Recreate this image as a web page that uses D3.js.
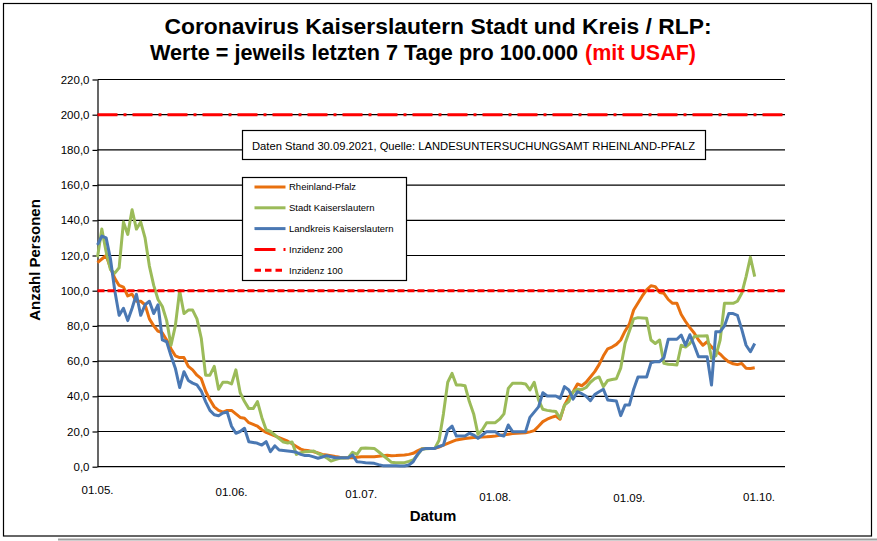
<!DOCTYPE html>
<html>
<head>
<meta charset="utf-8">
<script src="https://cdn.jsdelivr.net/npm/d3@7"></script>
<style>
  body { margin: 0; background: #fff; }
  text { font-family: "Liberation Sans", Arial, sans-serif; }
</style>
</head>
<body>
<div class="chart"></div>
<script>
// one value per day, starting 01.05.2021
const startDate = '2021-05-01'

const rlp = [
  116, 118, 120, 113, 107, 103, 102, 97, 98, 94,
  94, 92, 84, 80, 77, 76, 72, 67, 63, 62,
  62, 57, 55, 52, 50, 43, 38, 34, 32, 31,
  32, 32, 30, 28, 27.5, 25, 24, 23, 21, 19.5,
  18.5, 17.5, 16.5, 15.5, 14.5, 13, 11.5, 10, 9.3, 9,
  8.5, 7.8, 7, 6.7, 6.3, 5.8, 5.4, 5.1, 5.1, 5.1,
  5.4, 5.7, 5.7, 5.7, 5.7, 6, 6.2, 6.5, 6.2, 6.3,
  6.5, 6.6, 7, 7.6, 9, 10.2, 10.4, 10.4, 10.5, 11.2,
  12.2, 13.2, 14.2, 15.2, 15.6, 16, 16.3, 16.6, 16.7, 16.9,
  17, 17.2, 17.4, 17.8, 18.2, 18.5, 18.8, 19, 19.1, 19.3,
  19.8, 20.5, 23, 25.6, 27, 28, 28.8, 27, 35, 39.5,
  42.6, 47, 46, 48, 51, 54, 58, 63, 67, 68,
  69.5, 72, 77, 81, 89, 93, 97, 100.5, 102.8, 102.3,
  99, 98.5, 95, 92.8, 92.8, 86.5, 82.5, 79, 76, 72,
  69, 71, 68, 66, 64, 61.5, 59.5, 58.5, 58, 58.7,
  56, 55.8, 56.2
]

const stadt = [
  119, 135, 122, 112, 110, 113, 139, 132, 146, 135,
  139, 130, 114, 103, 95, 91, 83, 69, 80, 100,
  87, 89, 89, 84, 73, 52, 52, 57, 44, 48,
  48, 47, 55, 42, 37, 33, 33, 37, 28, 21,
  20, 18, 16, 14, 13.5, 14, 7, 8, 8.5, 8.7,
  8.9, 7.5, 6.5, 5, 3.2, 4, 4.8, 5, 5.1, 8.2,
  7, 10.5, 10.6, 10.5, 10.4, 8.5, 6.5, 4.5, 2.5, 2.3,
  2.3, 2.3, 3, 3.8, 6.5, 10, 10.2, 10.3, 10.4, 15,
  30, 48, 53, 46.4, 46.4, 46, 37, 30, 18.4, 21,
  25, 25, 25, 27, 30, 44.5, 47.4, 47.4, 47.4, 47,
  43.6, 48, 38, 32.6, 32, 31.6, 31.3, 27.5, 35, 37,
  42.6, 44, 43.8, 45, 48, 50, 51, 45.5, 49, 49.5,
  50, 56, 70, 77, 84, 84.7, 84.5, 84.3, 72, 70,
  72, 58.7, 58.2, 58, 57.8, 69, 68, 70, 74, 74.2,
  74.3, 74.4, 61.6, 63, 72, 92.8, 92.8, 92.8, 94, 98.5,
  108, 119, 108
]

const landkreis = [
  126, 131, 130, 118, 100, 86, 90, 83, 90, 98,
  86, 92, 94, 87, 92, 72, 71, 63, 56, 45,
  54, 49, 47.5, 46.5, 43, 37, 32, 29.5, 29, 30.5,
  31, 23, 19, 20, 21.8, 14.2, 13.8, 13.3, 12.3, 14.2,
  8.5, 11.9, 9.5, 9.2, 8.9, 8.6, 8.2, 7, 6.3, 6.3,
  5.6, 4.8, 5.5, 6.3, 5.7, 5.1, 5.1, 5.1, 5.1, 6.6,
  2.8, 2.6, 2.3, 2.1, 1.9, 1.2, 0.6, 0.6, 0.5, 0.5,
  0.4, 0.4, 1, 2.8, 7, 9.8, 10.4, 10.4, 10.4, 11.5,
  12.3, 20.8, 23.1, 17.4, 17.4, 17.4, 19, 18, 16.1, 18,
  19.9, 19.9, 19.9, 18, 17.4, 23.7, 19.9, 19.9, 19.9, 19.9,
  28, 31, 34, 42, 40.2, 40.2, 40.2, 38.8, 45.5, 43.6,
  38.4, 42.6, 41.5, 40, 37.5, 41, 42.6, 44, 37.9, 37.6,
  37.3, 29, 35, 35, 44, 51, 51, 51, 59, 59.7,
  59.7, 62, 72.4, 72.4, 72.4, 74.8, 69, 75, 69, 62.5,
  62.5, 62.5, 46.4, 76.7, 76.7, 80, 87, 87, 86, 78,
  69, 65.3, 70
]

const incidences = [200, 100]
const yTicks = [0, 20, 40, 60, 80, 100, 120, 140, 160, 180, 200, 220]
const xTickDates = ['2021-05-01', '2021-06-01', '2021-07-01', '2021-08-01', '2021-09-01', '2021-10-01']
const xTickLabels = ['01.05.', '01.06.', '01.07.', '01.08.', '01.09.', '01.10.']
const legendNames = ['Rheinland-Pfalz', 'Stadt Kaiserslautern', 'Landkreis Kaiserslautern', 'Inzidenz 200', 'Inzidenz 100']

const width = 877
const height = 541
const plot = {left: 97.5, right: 785, top: 79.5, bottom: 466.7}

const colors = {rlp: '#e8700f', stadt: '#9bbb59', landkreis: '#4a78b3', red: '#ff0000'}

const parseDate = d3.utcParse('%Y-%m-%d')
const start = parseDate(startDate)

const xScale = d3.scaleUtc()
  .domain([start, d3.utcDay.offset(start, 159)])
  .range([plot.left, plot.right])

const yScale = d3.scaleLinear()
  .domain([0, 220])
  .range([plot.bottom, plot.top])

const svg = d3.select('.chart')
  .append('svg')
  .attr('width', width)
  .attr('height', height)

// frame
svg.append('rect')
  .attr('x', 3.5).attr('y', 3.5)
  .attr('width', 868).attr('height', 532.5)
  .attr('fill', '#fff')
  .attr('stroke', '#000')
  .attr('stroke-width', 1.2)

svg.append('line')
  .attr('x1', 58).attr('x2', width)
  .attr('y1', 539.5).attr('y2', 539.5)
  .attr('stroke', '#a0a0a0')
  .attr('stroke-width', 2)

// title
svg.append('text')
  .attr('x', 438).attr('y', 34)
  .attr('text-anchor', 'middle')
  .attr('font-weight', 'bold')
  .attr('font-size', '22.5px')
  .attr('textLength', 547)
  .attr('lengthAdjust', 'spacingAndGlyphs')
  .text('Coronavirus Kaiserslautern Stadt und Kreis / RLP:')

svg.append('text')
  .attr('x', 150).attr('y', 60)
  .attr('font-weight', 'bold')
  .attr('font-size', '22.5px')
  .attr('textLength', 428)
  .attr('lengthAdjust', 'spacingAndGlyphs')
  .text('Werte = jeweils letzten 7 Tage pro 100.000')

svg.append('text')
  .attr('x', 585).attr('y', 60)
  .attr('font-weight', 'bold')
  .attr('font-size', '22.5px')
  .attr('fill', colors.red)
  .attr('textLength', 111)
  .attr('lengthAdjust', 'spacingAndGlyphs')
  .text('(mit USAF)')

// grid
svg.append('g')
  .selectAll('line')
  .data(yTicks)
  .join('line')
  .attr('x1', plot.left)
  .attr('x2', plot.right)
  .attr('y1', d => yScale(d))
  .attr('y2', d => yScale(d))
  .attr('stroke', '#000')
  .attr('stroke-width', 1.2)

// y axis
const yaxis = svg.append('g')
  .attr('transform', 'translate(' + plot.left + ',0)')
  .call(d3.axisLeft(yScale)
    .tickValues(yTicks)
    .tickSizeInner(5)
    .tickSizeOuter(0)
    .tickPadding(3)
    .tickFormat(d => d.toFixed(1).replace('.', ','))
  )

yaxis.select('.domain').attr('stroke', '#000').attr('stroke-width', 1.2)
yaxis.selectAll('.tick line').attr('stroke', '#000').attr('stroke-width', 1.2)
yaxis.selectAll('text')
  .attr('fill', '#000')
  .style('font-size', '11.5px')
  .style('font-family', '"Liberation Sans", Arial, sans-serif')

svg.append('text')
  .attr('transform', 'translate(40,260) rotate(-90)')
  .attr('text-anchor', 'middle')
  .attr('font-weight', 'bold')
  .attr('font-size', '15px')
  .text('Anzahl Personen')

// x labels (slightly staggered as in the source)
const stagger = [0, 2, 4, 6.5, 7.5, 7]
svg.append('g')
  .selectAll('text')
  .data(xTickDates)
  .join('text')
  .attr('x', d => xScale(parseDate(d)))
  .attr('y', (d, i) => 494 + stagger[i])
  .attr('text-anchor', 'middle')
  .attr('font-size', '11.5px')
  .text((d, i) => xTickLabels[i])

svg.append('text')
  .attr('x', 433).attr('y', 521)
  .attr('text-anchor', 'middle')
  .attr('font-weight', 'bold')
  .attr('font-size', '15px')
  .text('Datum')

// series
const valueline = d3.line()
  .x((d, i) => xScale(d3.utcDay.offset(start, i)))
  .y(d => yScale(d))

const series = [
  {values: rlp, color: colors.rlp},
  {values: stadt, color: colors.stadt},
  {values: landkreis, color: colors.landkreis}
]

svg.append('g')
  .selectAll('path')
  .data(series)
  .join('path')
  .attr('d', d => valueline(d.values))
  .attr('fill', 'none')
  .attr('stroke', d => d.color)
  .attr('stroke-width', 3)
  .attr('stroke-linejoin', 'round')

// incidence lines
const dashes = ['20,6,3,6', '7,3']
svg.append('g')
  .selectAll('line')
  .data(incidences)
  .join('line')
  .attr('x1', plot.left)
  .attr('x2', plot.right)
  .attr('y1', d => yScale(d))
  .attr('y2', d => yScale(d))
  .attr('stroke', colors.red)
  .attr('stroke-width', 3)
  .attr('stroke-dasharray', (d, i) => dashes[i])

// source box
svg.append('rect')
  .attr('x', 242.5).attr('y', 130.5)
  .attr('width', 463).attr('height', 29)
  .attr('fill', '#fff')
  .attr('stroke', '#000')
  .attr('stroke-width', 1.2)

svg.append('text')
  .attr('x', 252).attr('y', 149.5)
  .attr('font-size', '11px')
  .attr('textLength', 443)
  .attr('lengthAdjust', 'spacingAndGlyphs')
  .text('Daten Stand 30.09.2021, Quelle: LANDESUNTERSUCHUNGSAMT RHEINLAND-PFALZ')

// legend
const legend = svg.append('g').attr('transform', 'translate(242.5,177.5)')

legend.append('rect')
  .attr('width', 164).attr('height', 103)
  .attr('fill', '#fff')
  .attr('stroke', '#000')
  .attr('stroke-width', 1.2)

const legendStyles = [
  {color: colors.rlp, dash: null},
  {color: colors.stadt, dash: null},
  {color: colors.landkreis, dash: null},
  {color: colors.red, dash: '21,8,2,8'},
  {color: colors.red, dash: '6.5,4'}
]

const rows = legend.selectAll('g')
  .data(legendNames)
  .join('g')
  .attr('transform', (d, i) => 'translate(0,' + (9.5 + i * 20.8) + ')')

rows.append('line')
  .attr('x1', 12).attr('x2', 43)
  .attr('stroke', (d, i) => legendStyles[i].color)
  .attr('stroke-width', 3)
  .attr('stroke-dasharray', (d, i) => legendStyles[i].dash)

rows.append('text')
  .attr('x', 46.5).attr('y', 3.3)
  .attr('font-size', '9.5px')
  .text(d => d)
</script>
</body>
</html>
